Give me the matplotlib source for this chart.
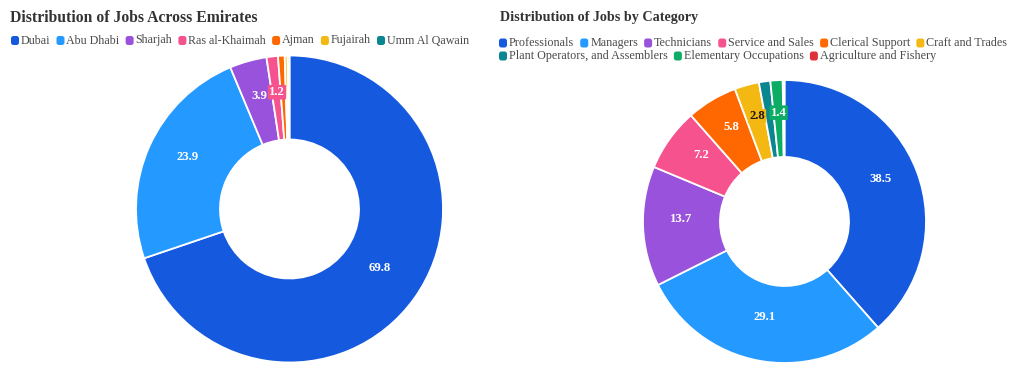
import numpy as np
import matplotlib
matplotlib.use('Agg')
import matplotlib.pyplot as plt
from matplotlib.patches import FancyBboxPatch
from matplotlib.colors import to_rgb

plt.rcParams['font.family'] = ['Liberation Serif', 'DejaVu Serif']

#%% data
emirates = ['Dubai', 'Abu Dhabi', 'Sharjah', 'Ras al-Khaimah', 'Ajman', 'Fujairah', 'Umm Al Qawain']
emirate_share = [69.8, 23.9, 3.9, 1.2, 0.7, 0.3, 0.2]
emirate_colors = ['#1559DE', '#2499FF', '#9952DB', '#F6528E', '#FF6800', '#F4B812', '#0A8690']

categories = ['Professionals', 'Managers', 'Technicians', 'Service and Sales', 'Clerical Support',
              'Craft and Trades', 'Plant Operators, and Assemblers', 'Elementary Occupations',
              'Agriculture and Fishery']
category_share = [38.5, 29.1, 13.7, 7.2, 5.8, 2.8, 1.3, 1.4, 0.2]
category_colors = ['#1559DE', '#2499FF', '#9952DB', '#F6528E', '#FF6800', '#F4B812', '#0A8690',
                   '#0CAC64', '#E03038']

W, H = 1024, 376
fig = plt.figure(figsize=(W / 100, H / 100), dpi=100)
ax = fig.add_axes([0, 0, 1, 1])
ax.set_xlim(0, W)
ax.set_ylim(0, H)
ax.axis('off')
renderer = fig.canvas.get_renderer()


def donut(vals, cols, cx, cy, r_out, r_in):
    cy = H - cy
    wedges, _ = ax.pie(vals, colors=cols, startangle=90, counterclock=False,
                       center=(cx, cy), radius=r_out, frame=True,
                       wedgeprops=dict(width=r_out - r_in, edgecolor='white', linewidth=1.3))
    r_lab = (r_out + r_in) / 2
    placed = []
    # bigger slices get label priority, overlapping labels get hidden
    for i in np.argsort(vals)[::-1]:
        w = wedges[i]
        a = np.deg2rad((w.theta1 + w.theta2) / 2)
        rgb = to_rgb(cols[i])
        lum = 0.299 * rgb[0] + 0.587 * rgb[1] + 0.114 * rgb[2]
        tc = '#1a1a1a' if lum > 0.6 else 'white'
        t = ax.text(cx + r_lab * np.cos(a), cy + r_lab * np.sin(a) + 6, f'{vals[i]:.1f}',
                    ha='center', va='center', fontsize=9.2, fontweight='bold', color=tc,
                    bbox=dict(boxstyle='round,pad=0.1', fc=cols[i], ec='none'))
        bb = t.get_window_extent(renderer).expanded(0.8, 0.8)
        if any(bb.overlaps(p) for p in placed):
            t.remove()
        else:
            placed.append(bb)


def fit_text(x, y, s, width, **kw):
    t = ax.text(x, H - y, s, ha='left', va='center', fontsize=10, **kw)
    t.set_fontsize(10 * width / t.get_window_extent(renderer).width)
    return t


def legend_rows(rows, x0, ys, names, cols, row_width):
    # pick a font size so the first row spans row_width
    fs = 8.0
    for _ in range(3):
        tw = 0
        for k in range(rows[0]):
            t = ax.text(0, 0, names[k], fontsize=fs)
            tw += t.get_window_extent(renderer).width
            t.remove()
        gaps = rows[0] * 11 + (rows[0] - 1) * 5
        fs *= (row_width - gaps) / tw
    k = 0
    for n, y in zip(rows, ys):
        x = x0
        for _ in range(n):
            ax.add_patch(FancyBboxPatch((x + 1, H - y - 4.5), 8, 9,
                                        boxstyle='round,pad=0,rounding_size=2.5',
                                        fc=cols[k], ec='none'))
            t = ax.text(x + 11, H - y, names[k], ha='left', va='center',
                        fontsize=fs, color='#4a4a4a')
            x = x + 11 + t.get_window_extent(renderer).width + 5
            k += 1


donut(emirate_share, emirate_colors, 289.5, 209, 153.5, 69.5)
donut(category_share, category_colors, 784.5, 221.5, 141.5, 64.5)

fit_text(10, 18, 'Distribution of Jobs Across Emirates', 248, fontweight='bold', color='#333333')
fit_text(500, 18, 'Distribution of Jobs by Category', 198, fontweight='bold', color='#333333')
legend_rows([7], 10, [40.5], emirates, emirate_colors, 458)
legend_rows([6, 3], 498, [43, 56], categories, category_colors, 505)

ax.set_xlim(0, W)
ax.set_ylim(0, H)
fig.savefig('out.png', dpi=100)
